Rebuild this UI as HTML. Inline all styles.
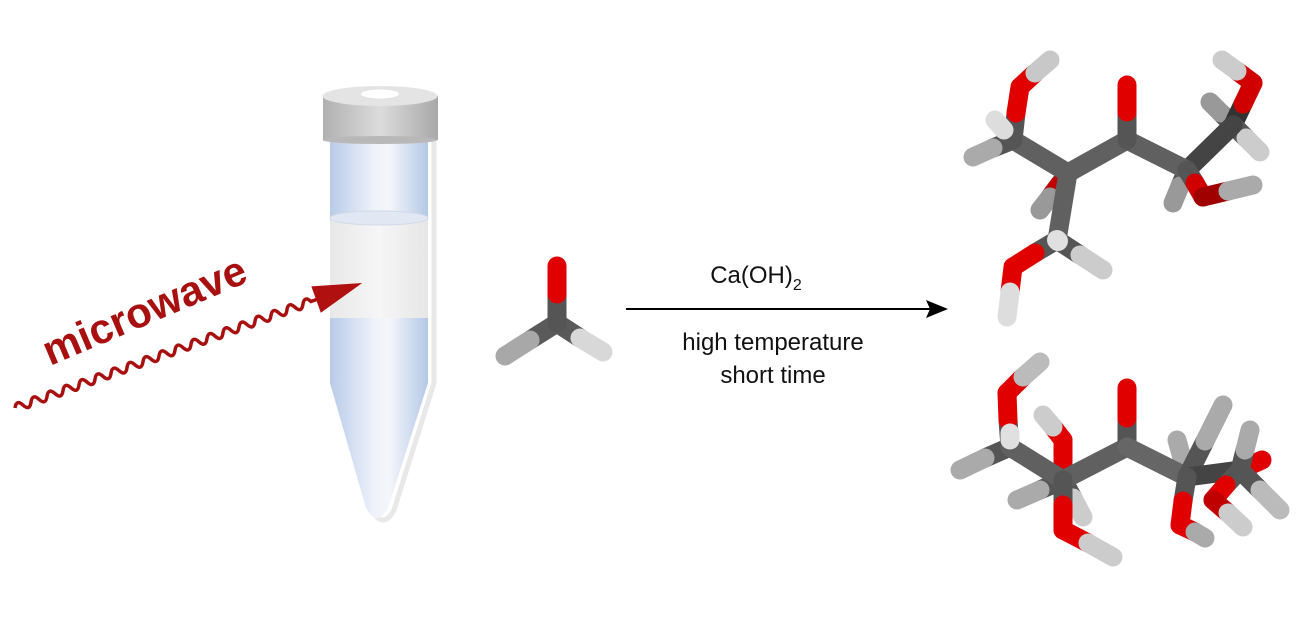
<!DOCTYPE html>
<html><head><meta charset="utf-8"><style>
html,body{margin:0;padding:0;background:#fff;}
svg{display:block;}
text{font-family:"Liberation Sans",Arial,sans-serif;}
</style></head><body>
<svg width="1300" height="628" viewBox="0 0 1300 628" xmlns="http://www.w3.org/2000/svg">
<defs>
<linearGradient id="body" x1="0" x2="1" y1="0" y2="0">
<stop offset="0" stop-color="#b8cbe8"/><stop offset="0.45" stop-color="#eef2fa"/><stop offset="0.6" stop-color="#f4f6fb"/><stop offset="1" stop-color="#b4c8e6"/></linearGradient>
<linearGradient id="band" x1="0" x2="1" y1="0" y2="0">
<stop offset="0" stop-color="#e8e8e8"/><stop offset="0.5" stop-color="#f6f6f6"/><stop offset="1" stop-color="#e6e6e6"/></linearGradient>
<linearGradient id="cap" x1="0" x2="1" y1="0" y2="0">
<stop offset="0" stop-color="#b0b0b0"/><stop offset="0.5" stop-color="#dcdcdc"/><stop offset="1" stop-color="#a8a8a8"/></linearGradient>
</defs>

<!-- tube shadow -->
<path d="M434,140 L434,383 L394,510 Q383,530 372,510" fill="none" stroke="#d8d8d8" stroke-width="5" opacity="0.6"/>
<!-- tube -->
<path d="M330,140 L428,140 L428,383 L388,508 Q377,528 366,508 L330,383 Z" fill="url(#body)"/>
<path d="M330,218 L428,218 L428,318 L330,318 Z" fill="url(#band)"/>
<ellipse cx="379" cy="218" rx="49" ry="7" fill="#e2e8f3" stroke="#cfd9ea" stroke-width="1"/>
<rect x="323" y="96" width="115" height="44" fill="url(#cap)"/>
<ellipse cx="380" cy="140" rx="57.5" ry="4" fill="#b8b8b8"/>
<ellipse cx="380" cy="96" rx="57.5" ry="10" fill="#e4e4e4"/>
<ellipse cx="380" cy="94" rx="19" ry="4.5" fill="#ffffff"/>

<!-- microwave -->
<text x="50" y="366" transform="rotate(-23 50 366)" font-size="42" font-weight="bold" fill="#a81010">microwave</text>
<g transform="translate(15,408) rotate(-19.8)">
<path d="M0,0 q4.25,-8 8.5,0 t8.5,0 t8.5,0 t8.5,0 t8.5,0 t8.5,0 t8.5,0 t8.5,0 t8.5,0 t8.5,0 t8.5,0 t8.5,0 t8.5,0 t8.5,0 t8.5,0 t8.5,0 t8.5,0 t8.5,0 t8.5,0 t8.5,0 t8.5,0 t8.5,0 t8.5,0 t8.5,0 t8.5,0 t8.5,0 t8.5,0 t8.5,0 t8.5,0 t8.5,0 t8.5,0 t8.5,0 t8.5,0 t8.5,0 t8.5,0 t8.5,0 t8.5,0 L330,0" fill="none" stroke="#a81010" stroke-width="3.5"/>
<path d="M320,-14 L369,0 L320,14 Z" fill="#b01010"/>
</g>

<!-- formaldehyde -->
<g stroke-linecap="round" stroke-width="19" fill="none">
<line x1="557" y1="323" x2="530" y2="340" stroke="#5a5a5a"/>
<line x1="530" y1="340" x2="505" y2="356" stroke="#a8a8a8"/>
<line x1="557" y1="323" x2="580" y2="338" stroke="#5a5a5a"/>
<line x1="580" y1="338" x2="603" y2="352" stroke="#d8d8d8"/>
<line x1="557" y1="323" x2="557" y2="294" stroke="#555"/>
<line x1="557" y1="294" x2="557" y2="266" stroke="#e00000"/>
</g>

<!-- arrow -->
<line x1="626" y1="309" x2="935" y2="309" stroke="#000" stroke-width="2"/>
<path d="M948,309 L926,300 L930,309 L926,318 Z" fill="#000"/>
<text x="756" y="283" font-size="24" text-anchor="middle" fill="#111">Ca(OH)<tspan font-size="16" dy="7">2</tspan></text>
<text x="773" y="350" font-size="24" text-anchor="middle" fill="#111">high temperature</text>
<text x="773" y="383" font-size="24" text-anchor="middle" fill="#111">short time</text>

<!-- top molecule -->
<g stroke-linecap="round" stroke-width="19" fill="none">
<line x1="1068" y1="173" x2="1059" y2="185" stroke="#555"/><line x1="1059" y1="185" x2="1050" y2="197" stroke="#c00000"/>
<line x1="1050" y1="197" x2="1040" y2="210" stroke="#999"/>
<line x1="1187" y1="170" x2="1180" y2="186" stroke="#555"/><line x1="1180" y1="186" x2="1173" y2="203" stroke="#999"/>
<line x1="1233" y1="125" x2="1221" y2="113" stroke="#555"/><line x1="1221" y1="113" x2="1210" y2="102" stroke="#999"/>
<line x1="1013" y1="140" x2="993" y2="148" stroke="#555"/><line x1="993" y1="148" x2="973" y2="157" stroke="#aaa"/>
<line x1="1013" y1="140" x2="1016" y2="113" stroke="#555"/><line x1="1016" y1="113" x2="1020" y2="87" stroke="#e00000"/>
<line x1="1020" y1="87" x2="1035" y2="73" stroke="#e00000"/><line x1="1035" y1="73" x2="1050" y2="60" stroke="#c8c8c8"/>
<line x1="1068" y1="173" x2="1013" y2="140" stroke="#606060"/>
<line x1="1013" y1="140" x2="1004" y2="130" stroke="#555"/><line x1="1004" y1="130" x2="995" y2="120" stroke="#ddd"/>
<line x1="1233" y1="125" x2="1243" y2="104" stroke="#333"/><line x1="1243" y1="104" x2="1253" y2="83" stroke="#d00000"/>
<line x1="1253" y1="83" x2="1237" y2="71" stroke="#d00000"/><line x1="1237" y1="71" x2="1222" y2="60" stroke="#ccc"/>
<line x1="1233" y1="125" x2="1246" y2="138" stroke="#555"/><line x1="1246" y1="138" x2="1260" y2="152" stroke="#ccc"/>
<line x1="1187" y1="170" x2="1233" y2="125" stroke="#444"/>
<line x1="1068" y1="173" x2="1127" y2="140" stroke="#606060"/>
<line x1="1127" y1="140" x2="1187" y2="170" stroke="#606060"/>
<line x1="1127" y1="140" x2="1127" y2="112" stroke="#555"/><line x1="1127" y1="112" x2="1127" y2="85" stroke="#e00000"/>
<line x1="1187" y1="170" x2="1195" y2="183" stroke="#555"/><line x1="1195" y1="183" x2="1203" y2="197" stroke="#d00000"/>
<line x1="1203" y1="197" x2="1228" y2="191" stroke="#a00000"/><line x1="1228" y1="191" x2="1253" y2="185" stroke="#aaa"/>
<line x1="1057" y1="240" x2="1080" y2="255" stroke="#555"/><line x1="1080" y1="255" x2="1103" y2="270" stroke="#ccc"/>
<line x1="1057" y1="240" x2="1035" y2="253" stroke="#555"/><line x1="1035" y1="253" x2="1013" y2="267" stroke="#e00000"/>
<line x1="1013" y1="267" x2="1010" y2="292" stroke="#e00000"/><line x1="1010" y1="292" x2="1007" y2="317" stroke="#ddd"/>
<line x1="1068" y1="173" x2="1057" y2="240" stroke="#606060"/>
<line x1="1057" y1="240" x2="1058" y2="241" stroke="#e0e0e0" stroke-width="20"/>
</g>

<!-- bottom molecule -->
<g stroke-linecap="round" stroke-width="19" fill="none">
<line x1="1187" y1="477" x2="1182" y2="458" stroke="#555"/><line x1="1182" y1="458" x2="1177" y2="440" stroke="#aaa"/>
<line x1="1240" y1="470" x2="1251" y2="465" stroke="#555"/><line x1="1251" y1="465" x2="1262" y2="460" stroke="#e00000"/>
<line x1="1240" y1="470" x2="1260" y2="490" stroke="#555"/><line x1="1260" y1="490" x2="1280" y2="510" stroke="#bbb"/>
<line x1="1063" y1="480" x2="1040" y2="490" stroke="#555"/><line x1="1040" y1="490" x2="1017" y2="500" stroke="#aaa"/>
<line x1="1063" y1="480" x2="1073" y2="498" stroke="#555"/><line x1="1073" y1="498" x2="1083" y2="517" stroke="#ccc"/>
<line x1="1063" y1="480" x2="1063" y2="460" stroke="#555"/><line x1="1063" y1="460" x2="1063" y2="440" stroke="#e00000"/>
<line x1="1063" y1="440" x2="1053" y2="427" stroke="#e00000"/><line x1="1053" y1="427" x2="1043" y2="415" stroke="#ccc"/>
<line x1="1010" y1="447" x2="985" y2="458" stroke="#555"/><line x1="985" y1="458" x2="960" y2="470" stroke="#aaa"/>
<line x1="1010" y1="447" x2="1008" y2="420" stroke="#555"/><line x1="1008" y1="420" x2="1007" y2="393" stroke="#e00000"/>
<line x1="1007" y1="393" x2="1023" y2="377" stroke="#e00000"/><line x1="1023" y1="377" x2="1040" y2="362" stroke="#bbb"/>
<line x1="1010" y1="447" x2="1063" y2="480" stroke="#606060"/>
<line x1="1010" y1="440" x2="1010" y2="433" stroke="#e0e0e0"/>
<line x1="1063" y1="480" x2="1127" y2="447" stroke="#606060"/>
<line x1="1127" y1="447" x2="1127" y2="418" stroke="#555"/><line x1="1127" y1="418" x2="1127" y2="388" stroke="#e00000"/>
<line x1="1127" y1="447" x2="1187" y2="477" stroke="#666"/>
<line x1="1187" y1="477" x2="1205" y2="441" stroke="#555"/><line x1="1205" y1="441" x2="1223" y2="405" stroke="#aaa"/>
<line x1="1187" y1="477" x2="1240" y2="470" stroke="#444"/>
<line x1="1240" y1="470" x2="1245" y2="450" stroke="#555"/><line x1="1245" y1="450" x2="1250" y2="430" stroke="#aaa"/>
<line x1="1063" y1="480" x2="1063" y2="505" stroke="#555"/><line x1="1063" y1="505" x2="1063" y2="530" stroke="#e00000"/>
<line x1="1063" y1="530" x2="1088" y2="543" stroke="#e00000"/><line x1="1088" y1="543" x2="1113" y2="557" stroke="#ccc"/>
<line x1="1187" y1="477" x2="1183" y2="501" stroke="#555"/><line x1="1183" y1="501" x2="1180" y2="525" stroke="#e00000"/>
<line x1="1180" y1="525" x2="1195" y2="532" stroke="#e00000"/><line x1="1195" y1="532" x2="1205" y2="538" stroke="#aaa"/>
<line x1="1240" y1="470" x2="1226" y2="485" stroke="#555"/><line x1="1226" y1="485" x2="1213" y2="500" stroke="#e00000"/>
<line x1="1213" y1="500" x2="1228" y2="513" stroke="#c00000"/><line x1="1228" y1="513" x2="1243" y2="527" stroke="#ccc"/>
</g>
</svg>
</body></html>
